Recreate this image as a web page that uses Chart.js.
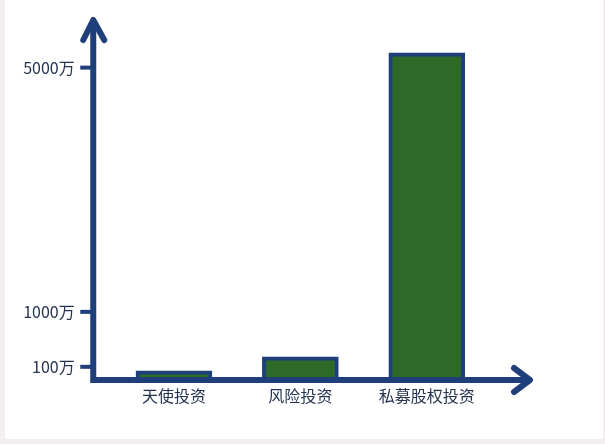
<!DOCTYPE html>
<html>
<head>
<meta charset="utf-8">
<script src="https://cdn.jsdelivr.net/npm/chart.js@4"></script>
<style>
  html, body { margin: 0; padding: 0; background: #f3eff0; }
  #wrap { width: 605px; height: 444px; position: relative; }
</style>
</head>
<body>
<div id="wrap"><canvas id="chart"></canvas></div>
<script>
const categories = ['天使投资', '风险投资', '私募股权投资'];
const amounts = [36, 265, 5243];           // 万
const tickValues = [100, 1000, 5000];
const tickLabels = ['100万', '1000万', '5000万'];

const Y_MIN = -116;
const Y_MAX = 5780;

const NAVY = '#1f3f7a';
const GREEN = '#2e6a27';
const TEXT = '#243350';
const FONT = '"Noto Sans CJK SC", "Noto Sans", sans-serif';

// white sheet on the faint grey page
const sheet = {
    id: 'sheet',
    beforeDraw(chart) {
        const c = chart.ctx;
        c.save();
        c.fillStyle = '#f3eff0';
        c.fillRect(0, 0, chart.width, chart.height);
        c.fillStyle = '#ffffff';
        c.fillRect(5, 0, chart.width - 7, chart.height - 5);
        c.restore();
    }
};

// thick hand-drawn style axes with arrows and tick marks
const arrowAxes = {
    id: 'arrowAxes',
    afterDatasetsDraw(chart) {
        const { ctx: c, chartArea: a, scales } = chart;
        const ax = a.left - 17.5;
        const ay = a.bottom;
        const tipX = a.right + 40;
        const tipY = a.top;

        c.save();
        c.strokeStyle = NAVY;

        // tick marks
        c.lineWidth = 4;
        c.lineCap = 'butt';
        scales.y.ticks.forEach(t => {
            const py = scales.y.getPixelForValue(t.value);
            c.beginPath();
            c.moveTo(ax - 13, py);
            c.lineTo(ax, py);
            c.stroke();
        });

        // axes
        c.lineWidth = 6;
        c.lineJoin = 'miter';
        c.beginPath();
        c.moveTo(ax, tipY + 2);
        c.lineTo(ax, ay);
        c.lineTo(tipX - 2, ay);
        c.stroke();

        // arrow heads
        c.lineJoin = 'round';
        c.lineCap = 'round';
        c.beginPath();
        c.moveTo(ax - 10, tipY + 20);
        c.lineTo(ax, tipY);
        c.lineTo(ax + 11, tipY + 20);
        c.stroke();

        c.beginPath();
        c.moveTo(tipX - 16, ay - 12);
        c.lineTo(tipX, ay);
        c.lineTo(tipX - 16, ay + 12);
        c.stroke();
        c.restore();
    }
};

new Chart(document.getElementById('chart'), {
    type: 'bar',
    data: {
        labels: categories,
        datasets: [{
            data: amounts,
            base: Y_MIN,
            backgroundColor: GREEN,
            borderColor: NAVY,
            borderWidth: 4,
            barThickness: 76
        }]
    },
    options: {
        responsive: true,
        maintainAspectRatio: false,
        animation: false,
        devicePixelRatio: 1,
        layout: { padding: { top: 20, right: 115, bottom: 0, left: 0 } },
        plugins: {
            legend: { display: false },
            tooltip: { enabled: false }
        },
        scales: {
            x: {
                offset: true,
                grid: { display: false, drawTicks: false },
                border: { display: false },
                ticks: {
                    padding: 6,
                    color: TEXT,
                    font: { family: FONT, size: 16 }
                },
                afterFit(scale) {
                    scale.height = 64;
                    scale.paddingLeft = 0;
                    scale.paddingRight = 0;
                }
            },
            y: {
                min: Y_MIN,
                max: Y_MAX,
                grid: { display: false, drawTicks: false },
                border: { display: false },
                afterBuildTicks(scale) {
                    scale.ticks = tickValues.map(v => ({ value: v }));
                },
                ticks: {
                    padding: 36,
                    color: TEXT,
                    font: { family: FONT, size: 16 },
                    callback: (v) => tickLabels[tickValues.indexOf(v)]
                },
                afterFit(scale) {
                    scale.width = 110.75;
                    scale.paddingTop = 0;
                    scale.paddingBottom = 0;
                }
            }
        }
    },
    plugins: [sheet, arrowAxes]
});
</script>
</body>
</html>
